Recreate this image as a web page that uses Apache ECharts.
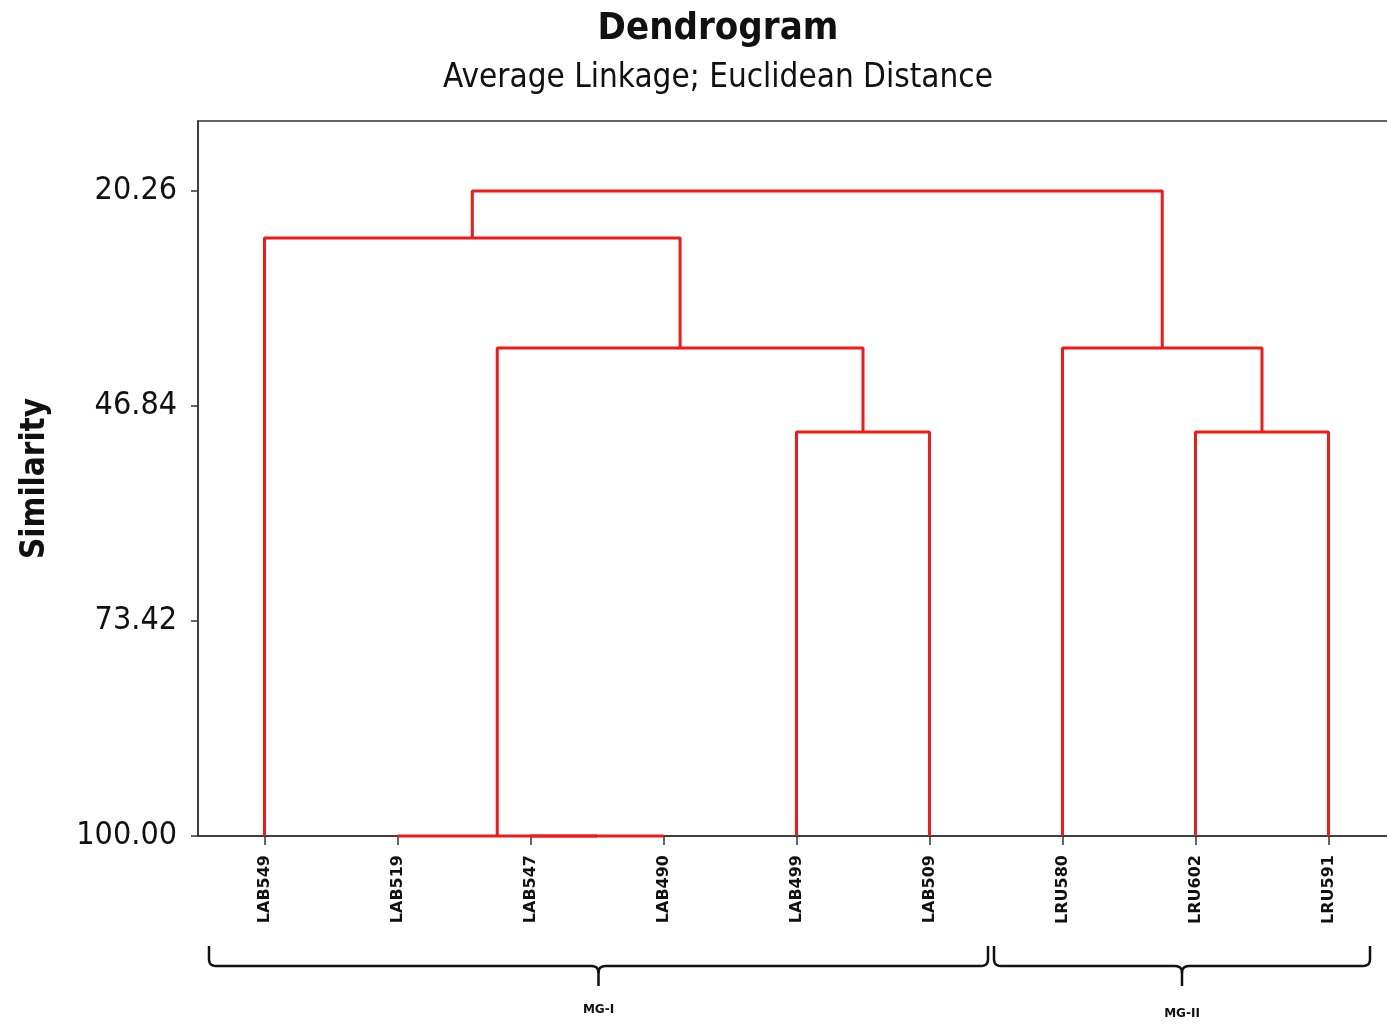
<!DOCTYPE html>
<html>
<head>
<meta charset="utf-8">
<script src="https://cdn.jsdelivr.net/npm/echarts@6/dist/echarts.min.js"></script>
<style>html,body{margin:0;padding:0;background:#fff}#c{width:1387px;height:1024px}</style>
</head>
<body>
<div id="c"></div>
<script>
// Leaves in dendrogram order
var leaves = ['LAB549','LAB519','LAB547','LAB490','LAB499','LAB509','LRU580','LRU602','LRU591'];
// Merges: [clusterA, clusterB, similarity]; new clusters numbered from leaves.length
var merges = [
  [2, 3, 100.00],
  [1, 9, 100.00],
  [4, 5, 50.05],
  [10, 11, 39.67],
  [0, 12, 26.07],
  [7, 8, 50.05],
  [6, 14, 39.67],
  [13, 15, 20.26]
];
var yTicks = [20.26, 46.84, 73.42, 100.00];
var groups = ['MG-I', 'MG-II'];

// positions of nodes: leaves at their index, clusters at midpoint of children
var nodeX = leaves.map(function(_, i){ return i; });
var nodeH = leaves.map(function(){ return 100; });
var series = [];
var RED = '#ee1b1b';
merges.forEach(function(m){
  var a = m[0], b = m[1], h = m[2];
  series.push({
    type: 'line', symbol: 'none', clip: false, animation: false, z: 5,
    lineStyle: {color: RED, width: 3},
    data: [[nodeX[a], nodeH[a]], [nodeX[a], h], [nodeX[b], h], [nodeX[b], nodeH[b]]]
  });
  nodeX.push((nodeX[a] + nodeX[b]) / 2);
  nodeH.push(h);
});

var chart = echarts.init(document.getElementById('c'), null, {renderer: 'canvas'});
var FONT = 'DejaVu Sans Condensed';

// quadratic curve points helper
function quad(p0, c, p1, n) {
  var pts = [];
  for (var i = 1; i <= n; i++) {
    var t = i / n, u = 1 - t;
    pts.push([u*u*p0[0] + 2*u*t*c[0] + t*t*p1[0], u*u*p0[1] + 2*u*t*c[1] + t*t*p1[1]]);
  }
  return pts;
}
function bracePoints(x1, x2, yTop, yLine, yTip) {
  var xm = (x1 + x2) / 2, r = 7;
  var pts = [[x1, yTop], [x1, yLine - r]];
  pts = pts.concat(quad([x1, yLine - r], [x1, yLine], [x1 + r, yLine], 6));
  pts.push([xm - r, yLine]);
  pts = pts.concat(quad([xm - r, yLine], [xm, yLine], [xm, yLine + r], 6));
  pts.push([xm, yTip]);
  var right = [[xm, yLine + r]].concat(quad([xm, yLine + r], [xm, yLine], [xm + r, yLine], 6));
  right.push([x2 - r, yLine]);
  right = right.concat(quad([x2 - r, yLine], [x2, yLine], [x2, yLine - r], 6));
  right.push([x2, yTop]);
  return [pts, right];
}

chart.setOption({
  animation: false,
  backgroundColor: '#fff',
  title: [
    {text: 'Dendrogram', left: 713, textAlign: 'center', top: 5,
     textStyle: {fontFamily: FONT, fontSize: 38, fontWeight: 'bold', color: '#111'}},
    {text: 'Average Linkage; Euclidean Distance', left: 713, textAlign: 'center', top: 57,
     textStyle: {fontFamily: FONT, fontSize: 33, fontWeight: 'normal', color: '#111'}}
  ],
  grid: {left: 198, top: 121, bottom: 188, right: -8, show: true, outerBoundsMode: 'none',
         containLabel: false,
         borderColor: '#333', borderWidth: 1.5, backgroundColor: 'transparent'},
  xAxis: {
    type: 'value', min: -0.5, max: leaves.length - 0.5,
    splitLine: {show: false},
    axisLine: {show: true, onZero: false, lineStyle: {color: '#333', width: 1.5}},
    axisTick: {show: true, length: 9, customValues: leaves.map(function(_, i){return i;}),
               lineStyle: {color: '#333', width: 1.5}},
    axisLabel: {show: true, rotate: 90, margin: 19,
                customValues: leaves.map(function(_, i){return i;}),
                formatter: function(v){ return leaves[Math.round(v)] || ''; },
                fontFamily: 'DejaVu Sans', fontWeight: 'bold', fontSize: 16, color: '#111'}
  },
  yAxis: {
    type: 'value', inverse: true, min: 11.61, max: 100,
    name: 'Similarity', nameLocation: 'middle', nameRotate: 90, nameGap: 146,
    nameTextStyle: {fontFamily: FONT, fontSize: 33, fontWeight: 'bold', color: '#111'},
    splitLine: {show: false},
    axisLine: {show: true, onZero: false, lineStyle: {color: '#333', width: 1.5}},
    axisTick: {show: true, length: 7, customValues: yTicks, lineStyle: {color: '#333', width: 1.5}},
    axisLabel: {customValues: yTicks, margin: 21,
                formatter: function(v){ return v.toFixed(2); },
                fontFamily: FONT, fontSize: 32, color: '#111'}
  },
  series: series
});

// group braces beneath the leaf labels (annotation)
var bounds = [[209, 988], [994, 1370]];
var els = [];
groups.forEach(function(name, i){
  var x1 = bounds[i][0], x2 = bounds[i][1];
  bracePoints(x1, x2, 946, 966, 986).forEach(function(pts){
    els.push({type: 'polyline', shape: {points: pts},
              style: {fill: null, stroke: '#111', lineWidth: 2.5}});
  });
  els.push({type: 'text', x: (x1 + x2) / 2, y: 1010 + i * 4,
            style: {text: name, fill: '#111', font: 'bold 12px "DejaVu Sans"',
                    align: 'center', verticalAlign: 'middle'}});
});
chart.setOption({graphic: {elements: els}});
</script>
</body>
</html>
